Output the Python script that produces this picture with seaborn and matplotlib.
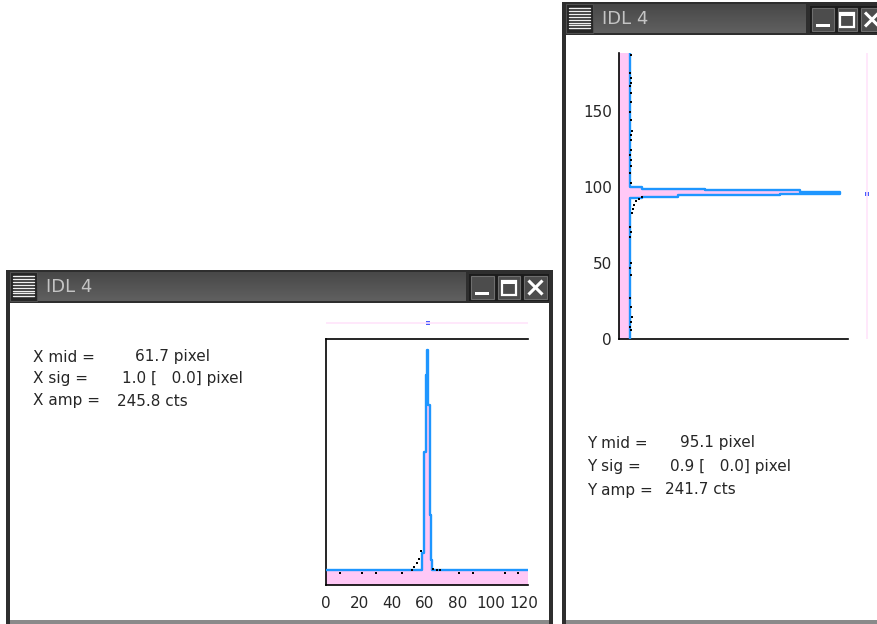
import matplotlib
matplotlib.use("Agg")
import numpy as np
import pandas as pd
import matplotlib.pyplot as plt
import seaborn as sns
from matplotlib.patches import Rectangle
from matplotlib.colors import LinearSegmentedColormap

# ---------------- data ----------------
# X profile (histogram steps): bin edges and counts
x_edges = [0, 58.4, 59.6, 60.4, 61.2, 62.0, 62.8, 63.6, 64.4, 122.4]
x_counts = [16, 35, 146, 230, 258, 198, 77, 27, 16]
# raw data points (dots) on the X profile
x_dot_pos = [8.5, 21.6, 30.3, 45.9, 65.0, 67.1, 69.1, 80.6, 89.1, 108.5, 116.4]
x_dot_cts = [13, 13, 13, 13, 18, 17, 17, 13, 13, 13, 13]
# dotted fit points near the peak base
x_fit_pos = [51.9, 53.5, 55.0, 56.4, 57.6]
x_fit_cts = [17, 20, 24, 29, 37]
x_ticks = [0, 20, 40, 60, 80, 100, 120]
x_mid = 61.7

# Y profile (horizontal histogram): bin edges (pixel) and counts
y_edges = [0, 92.5, 93.5, 94.6, 95.6, 96.7, 97.7, 98.8, 99.8, 188]
y_counts = [12.6, 26, 68, 184, 253, 207, 98, 26, 12.6]
y_dot_pos = [186.8, 174.8, 171.5, 168.2, 166.0, 161.6, 156.1, 149.5, 144.0,
             136.4, 134.2, 130.9, 124.3, 121.0, 117.8, 113.4, 109.0, 102.4,
             73.9, 70.6, 67.3, 49.8, 46.5, 42.1, 26.8, 21.3, 14.7, 11.4, 8.1, 5.9]
y_dot_cts = [13.5, 13.0, 13.5, 14.0, 13.0, 13.5, 14.0, 13.0, 13.5,
             14.5, 14.0, 13.5, 14.0, 13.0, 14.0, 13.5, 13.0, 14.0,
             13.0, 13.5, 13.0, 13.5, 13.0, 13.5, 13.0, 13.5, 14.5, 13.5, 13.0, 13.5]
y_fit_pos = [82.6, 85.5, 88.0, 90.5, 92.0, 93.6]
y_fit_cts = [14.5, 15.5, 17.0, 19.5, 22.5, 26.0]
y_ticks = [0, 50, 100, 150]
y_mid = 95.1

x_labels = ["X mid =", "X sig =", "X amp ="]
x_values = ["61.7 pixel", "1.0 [   0.0] pixel", "245.8 cts"]
y_labels = ["Y mid =", "Y sig =", "Y amp ="]
y_values = ["95.1 pixel", "0.9 [   0.0] pixel", "241.7 cts"]
window_title = "IDL 4"

# ---------------- style ----------------
BLUE = "#1e96ff"
PINK = "#ffc8f6"
W, H = 878, 624

sns.set_style("white")
plt.rcParams["font.family"] = ["DejaVu Sans"]

fig = plt.figure(figsize=(W / 100, H / 100), dpi=100)
fig.patch.set_facecolor("white")


def fr(x0, y0, x1, y1):
    return [x0 / W, 1 - y1 / H, (x1 - x0) / W, (y1 - y0) / H]


bg = fig.add_axes([0, 0, 1, 1])
bg.axis("off")

grad_cmap = LinearSegmentedColormap.from_list("tb", ["#484848", "#606060"])
grad = np.linspace(0, 1, 64).reshape(-1, 1)


def draw_button(x0, y0, x1, y1, kind):
    bg.add_patch(Rectangle((x0, y0), x1 - x0, y1 - y0, facecolor="#1c1c1c", edgecolor="none", zorder=3))
    bg.add_patch(Rectangle((x0 + 2, y0 + 2), x1 - x0 - 4, y1 - y0 - 4, facecolor="#4c4c4c",
                           edgecolor="#6e6e6e", lw=0.8, zorder=4))
    cx = (x0 + x1) / 2
    cy = (y0 + y1) / 2
    if kind == "min":
        bg.add_patch(Rectangle((cx - 7, cy + 4), 14, 3.5, facecolor="white", edgecolor="none", zorder=5))
    elif kind == "max":
        bg.add_patch(Rectangle((cx - 7, cy - 7), 14, 14, facecolor="none", edgecolor="white", lw=1.6, zorder=5))
        bg.add_patch(Rectangle((cx - 7, cy - 7), 14, 3.5, facecolor="white", edgecolor="none", zorder=5))
    else:
        bg.plot([cx - 7, cx + 7], [cy - 7, cy + 7], color="white", lw=2.2, zorder=5, solid_capstyle="butt")
        bg.plot([cx - 7, cx + 7], [cy + 7, cy - 7], color="white", lw=2.2, zorder=5, solid_capstyle="butt")


def draw_window(x0, x1, y0, ybar, ybot, bar_end, btns):
    # frame
    bg.add_patch(Rectangle((x0, y0), x1 - x0, ybot - y0, facecolor="#2e2e2e", edgecolor="none", zorder=1))
    # content
    bg.add_patch(Rectangle((x0 + 4, ybar), x1 - x0 - 8, ybot - 4 - ybar, facecolor="white",
                           edgecolor="none", zorder=2))
    # title bar gradient
    bg.imshow(grad, extent=[x0 + 32, bar_end, ybar - 2, y0 + 2], aspect="auto", cmap=grad_cmap,
              zorder=2, interpolation="bilinear")
    # menu icon
    bg.add_patch(Rectangle((x0 + 4, y0 + 2), 27, ybar - y0 - 4, facecolor="#262626",
                           edgecolor="#505050", lw=0.8, zorder=3))
    for k in range(8):
        yy = y0 + 6 + k * 2.9
        bg.plot([x0 + 7, x0 + 28], [yy, yy], color="#f0f0f0", lw=1.0, zorder=4)
    bg.text(x0 + 40, (y0 + ybar) / 2 + 0.5, window_title, color="#c4c4c4", fontsize=13,
            va="center", ha="left", zorder=4)
    for (bx0, bx1), kind in zip(btns, ["min", "max", "close"]):
        draw_button(bx0, y0 + 4, bx1, ybar - 2, kind)


draw_window(6, 553, 270, 303, 624, 466,
            [(469, 496), (496, 522), (522, 549)])
draw_window(562, 900, 2, 35, 624, 806,
            [(810, 836), (836, 859), (859, 885)])

# bottom lines of window content
bg.add_patch(Rectangle((10, 620), 539, 4, facecolor="#8a8a8a", edgecolor="none", zorder=3))
bg.add_patch(Rectangle((566, 620), 320, 4, facecolor="#8a8a8a", edgecolor="none", zorder=3))

# statistics text
FS = 11
for i, (lab, val) in enumerate(zip(x_labels, x_values)):
    yy = 357 + i * 22
    bg.text(33, yy, lab, fontsize=FS, va="center", ha="left", zorder=5)
    bg.text([135, 122, 117][i], yy, val, fontsize=FS, va="center", ha="left", zorder=5)
for i, (lab, val) in enumerate(zip(y_labels, y_values)):
    yy = 443 + i * 23.5
    bg.text(587, yy, lab, fontsize=FS, va="center", ha="left", zorder=5)
    bg.text([680, 670, 665][i], yy, val, fontsize=FS, va="center", ha="left", zorder=5)

bg.set_xlim(0, W)
bg.set_ylim(H, 0)


def step_vertices(edges, counts):
    pos, cts = [], []
    for i, c in enumerate(counts):
        pos += [edges[i], edges[i + 1]]
        cts += [c, c]
    return pos, cts


# ---------------- X profile ----------------
axx = fig.add_axes(fr(326, 339, 528, 585))
axx.set_facecolor("none")
xp, xc = step_vertices(x_edges, x_counts)
axx.fill_between(xp, 0, xc, color=PINK, lw=0, zorder=1)
sns.lineplot(x=xp, y=xc, sort=False, estimator=None, color=BLUE, lw=1.7, ax=axx, zorder=3)
sns.scatterplot(x=x_dot_pos, y=x_dot_cts, color="black", s=4, marker="s", linewidth=0, ax=axx, zorder=4)
sns.scatterplot(x=x_fit_pos, y=x_fit_cts, color="black", s=4, marker="s", linewidth=0, ax=axx, zorder=4)
axx.set_xlim(0, 122.4)
axx.set_ylim(0, 270)
axx.set_xticks(x_ticks)
axx.set_xticklabels([str(t) for t in x_ticks])
axx.set_yticks([])
axx.tick_params(axis="x", length=0, pad=8, labelsize=11)
for s in ["left", "bottom", "top"]:
    axx.spines[s].set_visible(True)
    axx.spines[s].set_color("black")
    axx.spines[s].set_linewidth(1.2)
axx.spines["right"].set_visible(False)

# strip above X profile
sx = fig.add_axes(fr(326, 318, 528, 328))
sx.set_facecolor("none")
sx.axhline(0.5, color="#ffe4fb", lw=1.2)
sns.scatterplot(x=[x_mid], y=[0.5], color="#4a5cff", s=8, marker="s", linewidth=0, ax=sx)
sx.set_xlim(0, 122.4)
sx.set_ylim(0, 1)
sx.axis("off")

# ---------------- Y profile ----------------
axy = fig.add_axes(fr(619, 53, 848, 339))
axy.set_facecolor("none")
yp, yc = step_vertices(y_edges, y_counts)
axy.fill_betweenx(yp, 0, yc, color=PINK, lw=0, zorder=1)
sns.lineplot(x=yc, y=yp, sort=False, estimator=None, color=BLUE, lw=1.7, ax=axy, zorder=3)
sns.scatterplot(x=y_dot_cts, y=y_dot_pos, color="black", s=4, marker="s", linewidth=0, ax=axy, zorder=4)
sns.scatterplot(x=y_fit_cts, y=y_fit_pos, color="black", s=4, marker="s", linewidth=0, ax=axy, zorder=4)
axy.set_xlim(0, 262)
axy.set_ylim(0, 188)
axy.set_yticks(y_ticks)
axy.set_yticklabels([str(t) for t in y_ticks])
axy.set_xticks([])
axy.tick_params(axis="y", length=0, pad=5, labelsize=11)
for s in ["left", "bottom"]:
    axy.spines[s].set_visible(True)
    axy.spines[s].set_color("black")
    axy.spines[s].set_linewidth(1.2)
for s in ["top", "right"]:
    axy.spines[s].set_visible(False)

# strip right of Y profile
sy = fig.add_axes(fr(862, 53, 872, 339))
sy.set_facecolor("none")
sy.axvline(0.5, color="#ffe4fb", lw=1.2)
sns.scatterplot(x=[0.5], y=[y_mid], color="#4a5cff", s=8, marker="s", linewidth=0, ax=sy)
sy.set_xlim(0, 1)
sy.set_ylim(0, 188)
sy.axis("off")

fig.savefig("out.png", dpi=100, facecolor="white")
